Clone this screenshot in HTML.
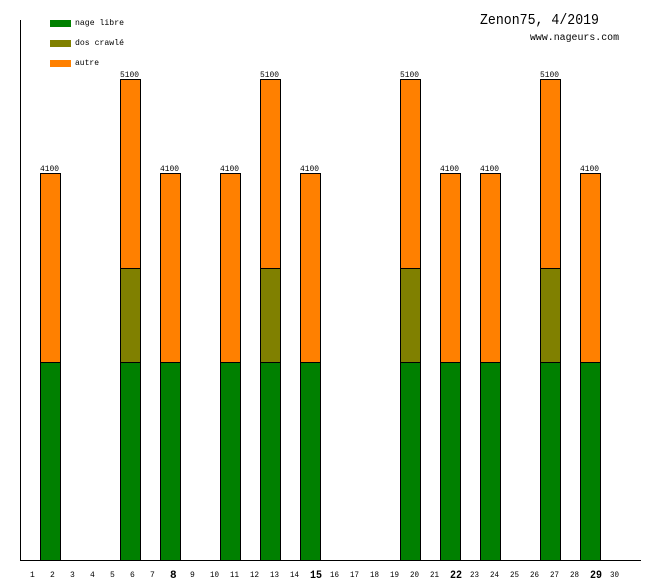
<!DOCTYPE html>
<html><head><meta charset="utf-8"><style>
html,body{margin:0;padding:0;background:#fff;}
svg{display:block;}
text{font-family:"Liberation Mono","DejaVu Sans Mono",monospace;fill:#000;}
</style></head><body>
<svg width="660" height="580" viewBox="0 0 660 580" xmlns="http://www.w3.org/2000/svg" shape-rendering="crispEdges">
<rect width="660" height="580" fill="#fff"/>
<!-- axes -->
<line x1="20.5" y1="20" x2="20.5" y2="561" stroke="#000"/>
<line x1="20" y1="560.5" x2="641" y2="560.5" stroke="#000"/>
<!-- legend -->
<rect x="50" y="20" width="21" height="7" fill="#008000"/>
<rect x="50" y="40" width="21" height="7" fill="#808000"/>
<rect x="50" y="60" width="21" height="7" fill="#ff8000"/>
<text x="75" y="25" font-size="8.5" textLength="49" lengthAdjust="spacingAndGlyphs">nage libre</text>
<text x="75" y="45" font-size="8.5" textLength="49" lengthAdjust="spacingAndGlyphs">dos crawlé</text>
<text x="75" y="65" font-size="8.5" textLength="24" lengthAdjust="spacingAndGlyphs">autre</text>
<!-- title -->
<text x="480" y="24" font-size="15" textLength="119" lengthAdjust="spacingAndGlyphs">Zenon75, 4/2019</text>
<text x="530" y="40" font-size="10" textLength="89" lengthAdjust="spacingAndGlyphs">www.nageurs.com</text>

<!-- bars 4100: green 362-560, orange 173-362 -->
<g id="b4" >
</g>
<g fill="none" stroke="#000">
</g>

<!-- day 2 -->
<rect x="40" y="173" width="21" height="189" fill="#ff8000"/><rect x="40" y="362" width="21" height="198" fill="#008000"/>
<rect x="40.5" y="173.5" width="20" height="387" fill="none" stroke="#000"/><line x1="40" y1="362.5" x2="61" y2="362.5" stroke="#000"/>
<text x="40" y="171" font-size="8" textLength="19" lengthAdjust="spacingAndGlyphs">4100</text>
<!-- day 6 -->
<rect x="120" y="79" width="21" height="189" fill="#ff8000"/><rect x="120" y="268" width="21" height="94" fill="#808000"/><rect x="120" y="362" width="21" height="198" fill="#008000"/>
<rect x="120.5" y="79.5" width="20" height="481" fill="none" stroke="#000"/><line x1="120" y1="268.5" x2="141" y2="268.5" stroke="#000"/><line x1="120" y1="362.5" x2="141" y2="362.5" stroke="#000"/>
<text x="120" y="77" font-size="8" textLength="19" lengthAdjust="spacingAndGlyphs">5100</text>
<!-- day 8 -->
<rect x="160" y="173" width="21" height="189" fill="#ff8000"/><rect x="160" y="362" width="21" height="198" fill="#008000"/>
<rect x="160.5" y="173.5" width="20" height="387" fill="none" stroke="#000"/><line x1="160" y1="362.5" x2="181" y2="362.5" stroke="#000"/>
<text x="160" y="171" font-size="8" textLength="19" lengthAdjust="spacingAndGlyphs">4100</text>
<!-- day 11 -->
<rect x="220" y="173" width="21" height="189" fill="#ff8000"/><rect x="220" y="362" width="21" height="198" fill="#008000"/>
<rect x="220.5" y="173.5" width="20" height="387" fill="none" stroke="#000"/><line x1="220" y1="362.5" x2="241" y2="362.5" stroke="#000"/>
<text x="220" y="171" font-size="8" textLength="19" lengthAdjust="spacingAndGlyphs">4100</text>
<!-- day 13 -->
<rect x="260" y="79" width="21" height="189" fill="#ff8000"/><rect x="260" y="268" width="21" height="94" fill="#808000"/><rect x="260" y="362" width="21" height="198" fill="#008000"/>
<rect x="260.5" y="79.5" width="20" height="481" fill="none" stroke="#000"/><line x1="260" y1="268.5" x2="281" y2="268.5" stroke="#000"/><line x1="260" y1="362.5" x2="281" y2="362.5" stroke="#000"/>
<text x="260" y="77" font-size="8" textLength="19" lengthAdjust="spacingAndGlyphs">5100</text>
<!-- day 15 -->
<rect x="300" y="173" width="21" height="189" fill="#ff8000"/><rect x="300" y="362" width="21" height="198" fill="#008000"/>
<rect x="300.5" y="173.5" width="20" height="387" fill="none" stroke="#000"/><line x1="300" y1="362.5" x2="321" y2="362.5" stroke="#000"/>
<text x="300" y="171" font-size="8" textLength="19" lengthAdjust="spacingAndGlyphs">4100</text>
<!-- day 20 -->
<rect x="400" y="79" width="21" height="189" fill="#ff8000"/><rect x="400" y="268" width="21" height="94" fill="#808000"/><rect x="400" y="362" width="21" height="198" fill="#008000"/>
<rect x="400.5" y="79.5" width="20" height="481" fill="none" stroke="#000"/><line x1="400" y1="268.5" x2="421" y2="268.5" stroke="#000"/><line x1="400" y1="362.5" x2="421" y2="362.5" stroke="#000"/>
<text x="400" y="77" font-size="8" textLength="19" lengthAdjust="spacingAndGlyphs">5100</text>
<!-- day 22 -->
<rect x="440" y="173" width="21" height="189" fill="#ff8000"/><rect x="440" y="362" width="21" height="198" fill="#008000"/>
<rect x="440.5" y="173.5" width="20" height="387" fill="none" stroke="#000"/><line x1="440" y1="362.5" x2="461" y2="362.5" stroke="#000"/>
<text x="440" y="171" font-size="8" textLength="19" lengthAdjust="spacingAndGlyphs">4100</text>
<!-- day 24 -->
<rect x="480" y="173" width="21" height="189" fill="#ff8000"/><rect x="480" y="362" width="21" height="198" fill="#008000"/>
<rect x="480.5" y="173.5" width="20" height="387" fill="none" stroke="#000"/><line x1="480" y1="362.5" x2="501" y2="362.5" stroke="#000"/>
<text x="480" y="171" font-size="8" textLength="19" lengthAdjust="spacingAndGlyphs">4100</text>
<!-- day 27 -->
<rect x="540" y="79" width="21" height="189" fill="#ff8000"/><rect x="540" y="268" width="21" height="94" fill="#808000"/><rect x="540" y="362" width="21" height="198" fill="#008000"/>
<rect x="540.5" y="79.5" width="20" height="481" fill="none" stroke="#000"/><line x1="540" y1="268.5" x2="561" y2="268.5" stroke="#000"/><line x1="540" y1="362.5" x2="561" y2="362.5" stroke="#000"/>
<text x="540" y="77" font-size="8" textLength="19" lengthAdjust="spacingAndGlyphs">5100</text>
<!-- day 29 -->
<rect x="580" y="173" width="21" height="189" fill="#ff8000"/><rect x="580" y="362" width="21" height="198" fill="#008000"/>
<rect x="580.5" y="173.5" width="20" height="387" fill="none" stroke="#000"/><line x1="580" y1="362.5" x2="601" y2="362.5" stroke="#000"/>
<text x="580" y="171" font-size="8" textLength="19" lengthAdjust="spacingAndGlyphs">4100</text>

<!-- day labels -->
<g font-size="8">
<text x="30" y="577">1</text>
<text x="50" y="577">2</text>
<text x="70" y="577">3</text>
<text x="90" y="577">4</text>
<text x="110" y="577">5</text>
<text x="130" y="577">6</text>
<text x="150" y="577">7</text>
<text x="190" y="577">9</text>
<text x="210" y="577" textLength="9" lengthAdjust="spacingAndGlyphs">10</text>
<text x="230" y="577" textLength="9" lengthAdjust="spacingAndGlyphs">11</text>
<text x="250" y="577" textLength="9" lengthAdjust="spacingAndGlyphs">12</text>
<text x="270" y="577" textLength="9" lengthAdjust="spacingAndGlyphs">13</text>
<text x="290" y="577" textLength="9" lengthAdjust="spacingAndGlyphs">14</text>
<text x="330" y="577" textLength="9" lengthAdjust="spacingAndGlyphs">16</text>
<text x="350" y="577" textLength="9" lengthAdjust="spacingAndGlyphs">17</text>
<text x="370" y="577" textLength="9" lengthAdjust="spacingAndGlyphs">18</text>
<text x="390" y="577" textLength="9" lengthAdjust="spacingAndGlyphs">19</text>
<text x="410" y="577" textLength="9" lengthAdjust="spacingAndGlyphs">20</text>
<text x="430" y="577" textLength="9" lengthAdjust="spacingAndGlyphs">21</text>
<text x="470" y="577" textLength="9" lengthAdjust="spacingAndGlyphs">23</text>
<text x="490" y="577" textLength="9" lengthAdjust="spacingAndGlyphs">24</text>
<text x="510" y="577" textLength="9" lengthAdjust="spacingAndGlyphs">25</text>
<text x="530" y="577" textLength="9" lengthAdjust="spacingAndGlyphs">26</text>
<text x="550" y="577" textLength="9" lengthAdjust="spacingAndGlyphs">27</text>
<text x="570" y="577" textLength="9" lengthAdjust="spacingAndGlyphs">28</text>
<text x="610" y="577" textLength="9" lengthAdjust="spacingAndGlyphs">30</text>
</g>
<g font-size="11" font-weight="bold">
<text x="170" y="578">8</text>
<text x="310" y="578" textLength="12" lengthAdjust="spacingAndGlyphs">15</text>
<text x="450" y="578" textLength="12" lengthAdjust="spacingAndGlyphs">22</text>
<text x="590" y="578" textLength="12" lengthAdjust="spacingAndGlyphs">29</text>
</g>
</svg>
</body></html>
